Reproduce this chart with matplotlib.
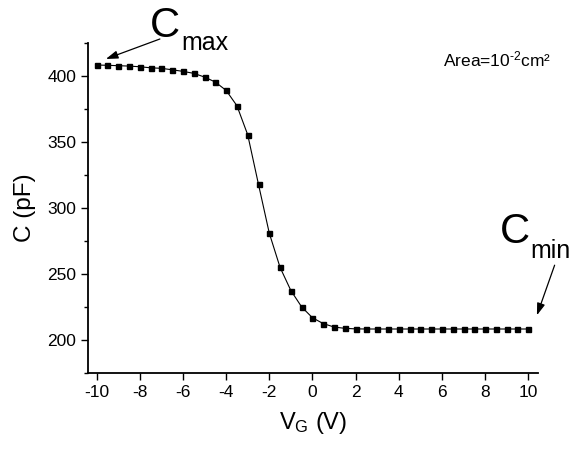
import matplotlib
matplotlib.use("Agg")
import matplotlib.pyplot as plt
from matplotlib.ticker import MultipleLocator

plt.rcParams['font.family'] = ['Liberation Sans', 'DejaVu Sans']
plt.rcParams['mathtext.fontset'] = 'custom'
plt.rcParams['mathtext.rm'] = 'Liberation Sans'
plt.rcParams['mathtext.it'] = 'Liberation Sans:italic'
plt.rcParams['mathtext.default'] = 'regular'

# gate voltage (V) and capacitance (pF)
vg = [-10, -9.5, -9, -8.5, -8, -7.5, -7, -6.5, -6, -5.5, -5, -4.5, -4, -3.5,
      -3, -2.5, -2, -1.5, -1, -0.5, 0, 0.5, 1, 1.5, 2, 2.5, 3, 3.5, 4, 4.5,
      5, 5.5, 6, 6.5, 7, 7.5, 8, 8.5, 9, 9.5, 10]
cap = [408.1, 407.9, 407.6, 407.3, 406.8, 406.0, 405.6, 404.5, 403.3, 401.8,
       399.0, 395.2, 388.9, 377.3, 355.3, 317.7, 280.8, 254.9, 237.4, 225.0,
       216.8, 212.4, 209.8, 208.8, 208.4, 208.3, 208.3, 208.3, 208.3, 208.3,
       208.3, 208.3, 208.3, 208.3, 208.3, 208.3, 208.3, 208.3, 208.3, 208.3, 208.3]
x_ticks = [-10, -8, -6, -4, -2, 0, 2, 4, 6, 8, 10]
y_ticks = [200, 250, 300, 350, 400]

W, H = 572, 449
fig = plt.figure(figsize=(W / 100, H / 100), dpi=100)
ax = fig.add_axes([88 / W, 1 - 373 / H, (538 - 88) / W, (373 - 42.7) / H])

ax.plot(vg, cap, color='black', lw=0.8, marker='s', markersize=3.6,
        markerfacecolor='black', markeredgecolor='black')

ax.set_xlim(-10.4, 10.45)
ax.set_ylim(175, 425)
ax.set_xticks(x_ticks)
ax.set_xticklabels([str(t) for t in x_ticks])
ax.set_yticks(y_ticks)
ax.yaxis.set_minor_locator(MultipleLocator(25))

for side in ['top', 'right']:
    ax.spines[side].set_visible(False)
for side in ['left', 'bottom']:
    ax.spines[side].set_linewidth(1.3)

ax.tick_params(axis='both', which='major', direction='out', length=5,
               width=1.0, labelsize=12.5, pad=3.5)
ax.tick_params(axis='y', which='minor', direction='out', length=3, width=1.0)

ax.set_xlabel(r'V$_{G}$ (V)', fontsize=17, labelpad=7)
ax.set_ylabel('C (pF)', fontsize=17.5, labelpad=8)


def px(x, y):
    return x / W, 1 - y / H


# big C with a lowered subscript, placed in pixel positions
fig.text(*px(150, 37), 'C', fontsize=30, va='baseline', ha='left')
fig.text(*px(181, 50), 'max', fontsize=18, va='baseline', ha='left')
fig.text(*px(500, 243), 'C', fontsize=30, va='baseline', ha='left')
fig.text(*px(530.5, 258), 'min', fontsize=18, va='baseline', ha='left')
fig.text(*px(443, 66.7), r'Area=10$^{\text{-2}}$cm²', fontsize=12.5,
         va='baseline', ha='left')

arrow = dict(arrowstyle='-|>,head_length=0.6,head_width=0.2', color='black',
             lw=0.9, mutation_scale=12, shrinkA=0, shrinkB=0)
ax.annotate('', xy=(-9.57, 412.7), xytext=(-7.07, 427.8),
            arrowprops=arrow, annotation_clip=False)
ax.annotate('', xy=(10.4, 218.7), xytext=(11.22, 256.6),
            arrowprops=arrow, annotation_clip=False)

plt.savefig("out.png", dpi=100)
plt.close()
